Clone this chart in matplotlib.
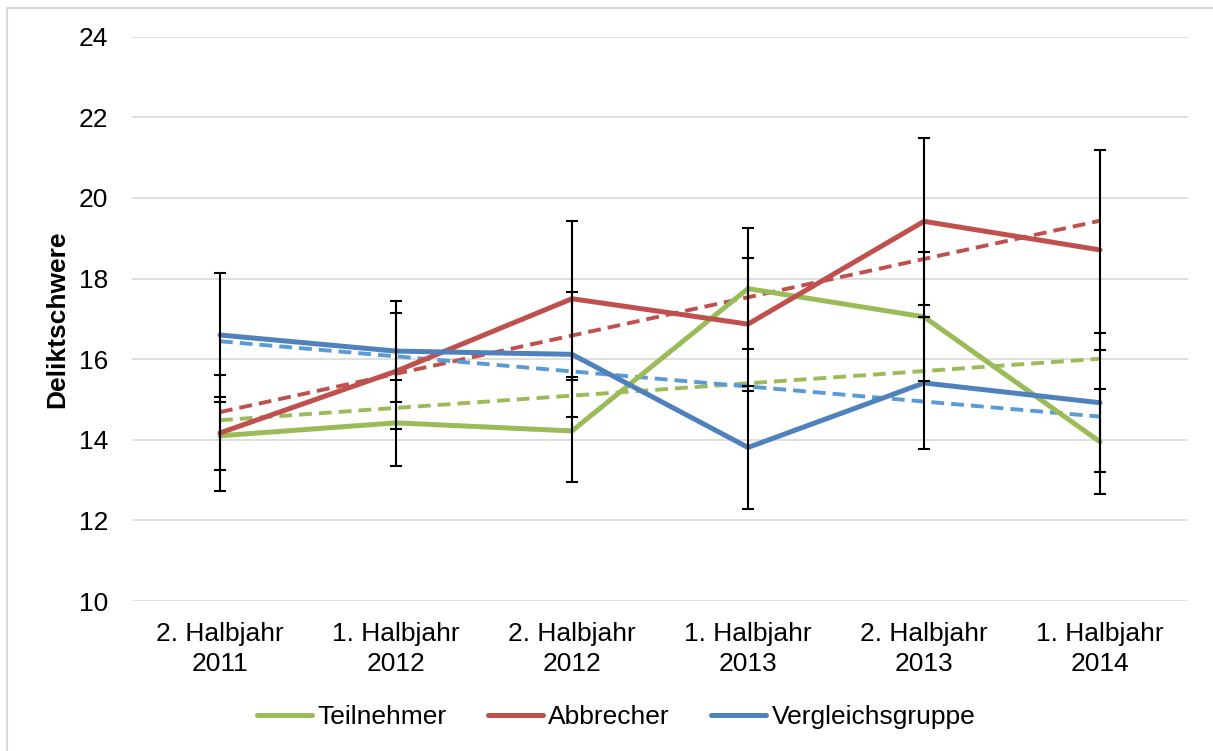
import numpy as np
import matplotlib
matplotlib.use("Agg")
import matplotlib.pyplot as plt
from matplotlib.patches import Rectangle

plt.rcParams["font.family"] = ["Liberation Sans", "DejaVu Sans"]

categories = ["2. Halbjahr\n2011", "1. Halbjahr\n2012", "2. Halbjahr\n2012",
              "1. Halbjahr\n2013", "2. Halbjahr\n2013", "1. Halbjahr\n2014"]

teilnehmer = [14.10, 14.42, 14.22, 17.75, 17.05, 13.95]
teilnehmer_err = [0.85, 1.06, 1.27, 1.50, 1.60, 1.30]

abbrecher = [14.17, 15.70, 17.50, 16.87, 19.42, 18.71]
abbrecher_err = [1.43, 1.44, 1.93, 1.65, 2.07, 2.48]

vergleich = [16.60, 16.20, 16.12, 13.81, 15.41, 14.92]
vergleich_err = [1.55, 1.25, 1.55, 1.52, 1.63, 1.72]

series = [
    ("Teilnehmer", teilnehmer, teilnehmer_err, "#9BBB59", "#9BBB59"),
    ("Abbrecher", abbrecher, abbrecher_err, "#C0504D", "#C0504D"),
    ("Vergleichsgruppe", vergleich, vergleich_err, "#4F81BD", "#5B9BD5"),
]

fig = plt.figure(figsize=(12.13, 7.51), dpi=100)
ax = fig.add_axes([0.1088, 0.1997, 0.8706, 0.7514])

x = np.arange(len(categories))
handles = []
for name, vals, errs, col, trend_col in series:
    line, = ax.plot(x, vals, color=col, lw=3.6, solid_capstyle="round",
                    solid_joinstyle="round", zorder=3, label=name)
    handles.append(line)
    # linear trend like the Excel trendline
    k, d = np.polyfit(x, vals, 1)
    ax.plot(x, k * x + d, color=trend_col, lw=2.8, dashes=(3.3, 1.8), zorder=2)

for name, vals, errs, col, trend_col in series:
    ax.errorbar(x, vals, yerr=errs, fmt="none", ecolor="black", elinewidth=1.5,
                capsize=4.6, capthick=1.5, zorder=4)

ax.set_xlim(-0.5, len(categories) - 0.5)
ax.set_ylim(10, 24)
ax.set_yticks(np.arange(10, 25, 2))
ax.set_xticks(x)
ax.set_xticklabels(categories, linespacing=1.32)
ax.tick_params(axis="both", length=0, labelsize=19)
ax.tick_params(axis="y", pad=17)
ax.tick_params(axis="x", pad=15)
ax.grid(axis="y", color="#D9D9D9", lw=1.2)
ax.set_axisbelow(True)
for s in ax.spines.values():
    s.set_visible(False)

ax.set_ylabel("Deliktschwere", fontsize=19, fontweight="bold")
ax.yaxis.set_label_coords(-0.0597, 0.5)

fig.legend(handles=handles, loc="center", bbox_to_anchor=(0.508, 0.0453), ncol=3,
           frameon=False, fontsize=19, handlelength=2.1, handletextpad=0.2,
           columnspacing=1.55)

# chart area border
fig.patches.append(Rectangle((7 / 1213, -0.05), 1.1, 1 - 8 / 751 + 0.05,
                             transform=fig.transFigure, fill=False,
                             edgecolor="#D9D9D9", lw=1.5))

fig.savefig("out.png", dpi=100)
